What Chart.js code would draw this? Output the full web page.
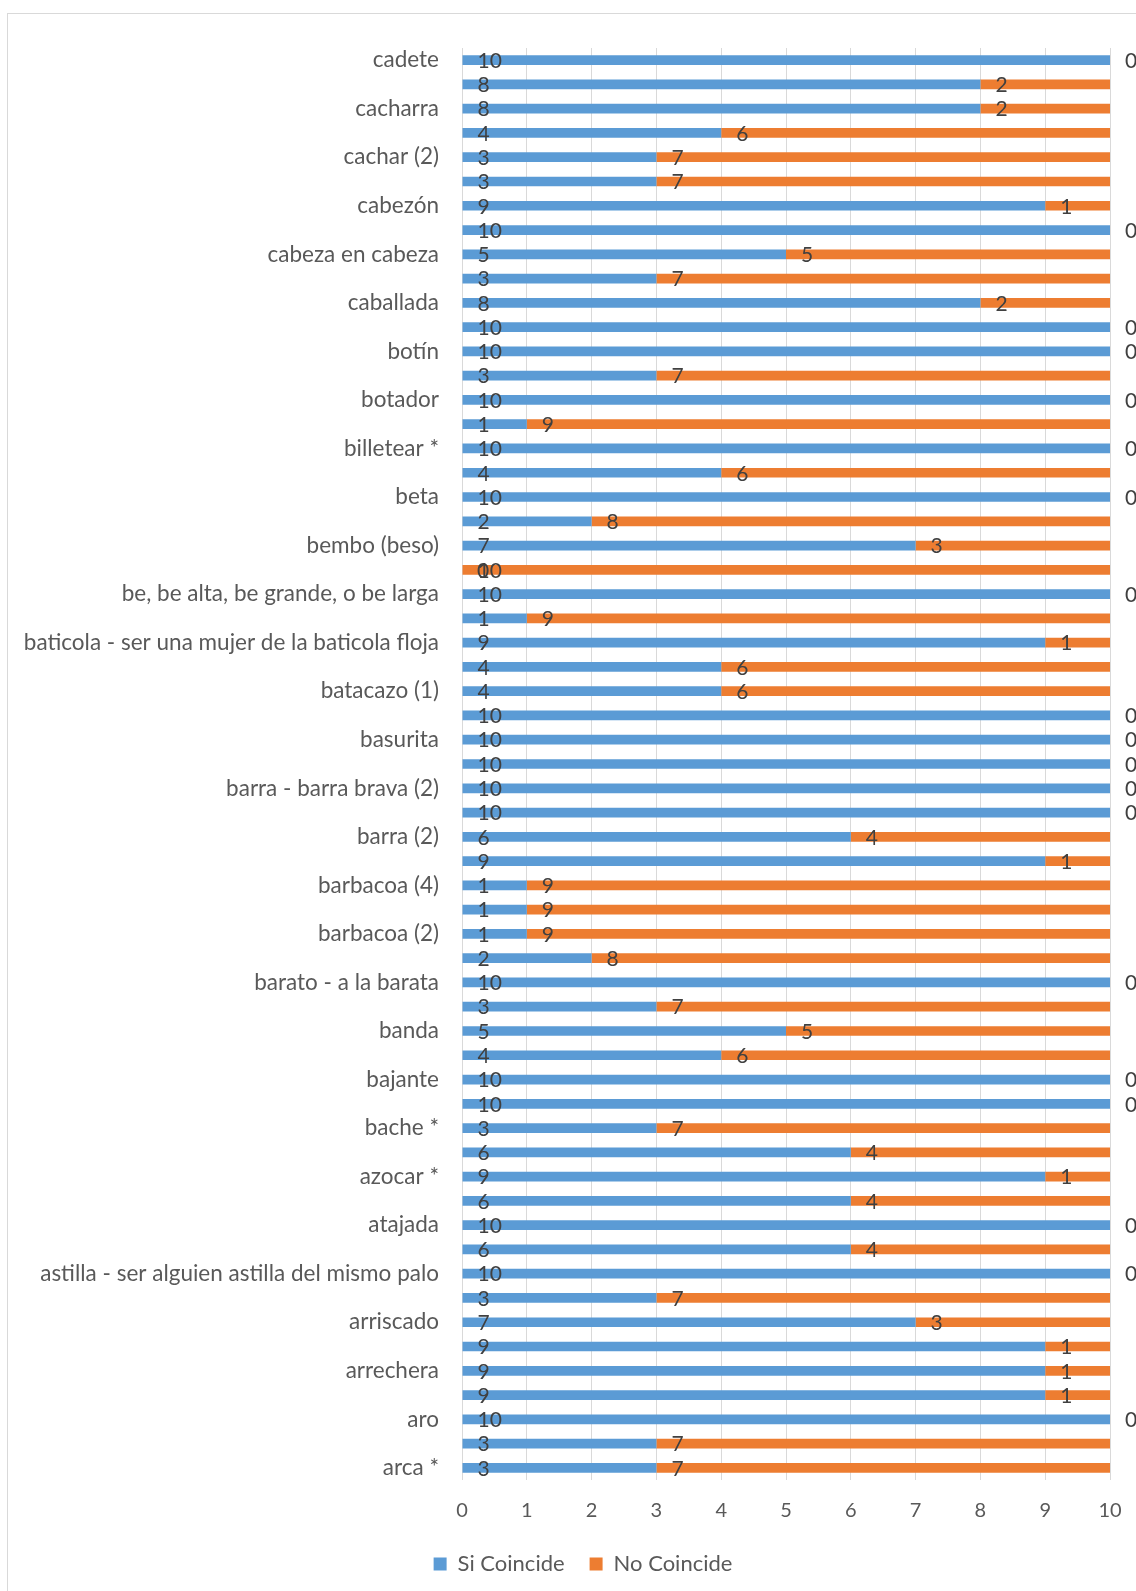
<!DOCTYPE html>
<html>
<head>
<meta charset="utf-8">
<script src="https://cdn.jsdelivr.net/npm/chart.js@4.4.1/dist/chart.umd.min.js"></script>
<style>
  html, body { margin: 0; padding: 0; background: #fff; overflow: hidden; }
  #frame { position: absolute; left: 7px; top: 13px; width: 1152px; height: 1600px; border: 1px solid #d9d9d9; }
  canvas { display: block; }
</style>
</head>
<body>
<div id="frame"><canvas id="chart" width="1152" height="1600"></canvas></div>
<script>
// categorias de arriba hacia abajo (las vacias no se ven en el grafico)
const categorias = [
  'cadete', '', 'cacharra', '', 'cachar (2)', '', 'cabezón', '', 'cabeza en cabeza', '',
  'caballada', '', 'botín', '', 'botador', '', 'billetear *', '', 'beta', '',
  'bembo (beso)', '', 'be, be alta, be grande, o be larga', '', 'baticola - ser una mujer de la baticola floja', '',
  'batacazo (1)', '', 'basurita', '', 'barra - barra brava (2)', '', 'barra (2)', '', 'barbacoa (4)', '',
  'barbacoa (2)', '', 'barato - a la barata', '', 'banda', '', 'bajante', '', 'bache *', '',
  'azocar *', '', 'atajada', '', 'astilla - ser alguien astilla del mismo palo', '', 'arriscado', '',
  'arrechera', '', 'aro', '', 'arca *'
];

const siCoincide = [10, 8, 8, 4, 3, 3, 9, 10, 5, 3, 8, 10, 10, 3, 10, 1, 10, 4, 10, 2,
  7, 0, 10, 1, 9, 4, 4, 10, 10, 10, 10, 10, 6, 9, 1, 1, 1, 2, 10, 3,
  5, 4, 10, 10, 3, 6, 9, 6, 10, 6, 10, 3, 7, 9, 9, 9, 10, 3, 3];

const noCoincide = [0, 2, 2, 6, 7, 7, 1, 0, 5, 7, 2, 0, 0, 7, 0, 9, 0, 6, 0, 8,
  3, 10, 0, 9, 1, 6, 6, 0, 0, 0, 0, 0, 4, 1, 9, 9, 9, 8, 0, 7,
  5, 6, 0, 0, 7, 4, 1, 4, 0, 4, 0, 7, 3, 1, 1, 1, 0, 7, 7];

const ticksX = [0, 1, 2, 3, 4, 5, 6, 7, 8, 9, 10];

const fuente = 'Lato';

// etiquetas de valor en la base de cada segmento
const etiquetasValor = {
  id: 'etiquetasValor',
  afterDatasetsDraw(chart) {
    const ctx = chart.ctx;
    ctx.save();
    ctx.font = '21px ' + fuente;
    ctx.fillStyle = '#404040';
    ctx.textAlign = 'left';
    ctx.textBaseline = 'middle';
    chart.data.datasets.forEach((ds, i) => {
      chart.getDatasetMeta(i).data.forEach((bar, j) => {
        ctx.fillText(String(ds.data[j]), bar.base + 15, bar.y + 1);
      });
    });
    ctx.restore();
  }
};

// la leyenda va centrada en todo el ancho del grafico, no solo hasta el borde derecho
const moverLeyenda = {
  id: 'moverLeyenda',
  afterLayout(chart) { chart.legend.left = 48; }
};

new Chart(document.getElementById('chart').getContext('2d'), {
  type: 'bar',
  data: {
    labels: categorias,
    datasets: [{
      label: 'Si Coincide',
      data: siCoincide,
      backgroundColor: '#5B9BD5',
      barPercentage: 0.4,
      categoryPercentage: 1
    }, {
      label: 'No Coincide',
      data: noCoincide,
      backgroundColor: '#ED7D31',
      barPercentage: 0.4,
      categoryPercentage: 1
    }]
  },
  options: {
    indexAxis: 'y',
    responsive: false,
    animation: false,
    layout: { padding: { top: 34, right: 50, bottom: 29, left: 0 } },
    scales: {
      x: {
        stacked: true,
        min: 0,
        max: 10,
        afterBuildTicks: s => { s.ticks = ticksX.map(v => ({ value: v })); },
        afterFit: s => { s.height -= 14; },
        grid: { color: '#d9d9d9', lineWidth: 1, drawTicks: false },
        border: { display: false },
        ticks: { padding: 19, color: '#595959', font: { family: fuente, size: 20 } }
      },
      y: {
        stacked: true,
        afterFit: s => { s.width = 454; },
        grid: { display: false },
        border: { display: false },
        ticks: { autoSkip: false, padding: 15, color: '#595959', font: { family: fuente, size: 22.5 } }
      }
    },
    plugins: {
      legend: {
        position: 'bottom',
        labels: { boxWidth: 13, boxHeight: 13, padding: 25, color: '#595959', font: { family: fuente, size: 22 } }
      },
      tooltip: { enabled: false }
    }
  },
  plugins: [etiquetasValor, moverLeyenda]
});
</script>
</body>
</html>
